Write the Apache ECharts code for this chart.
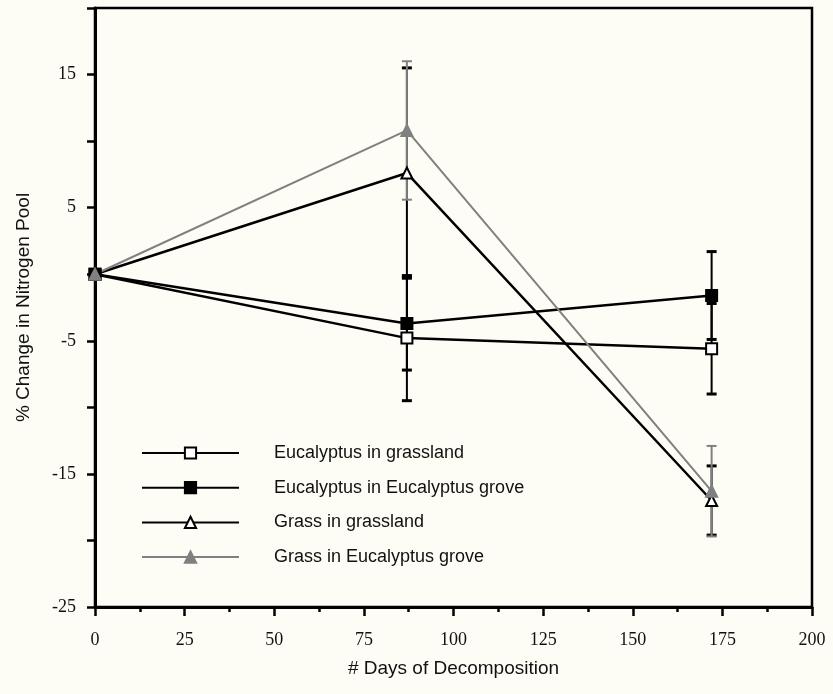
<!DOCTYPE html>
<html><head><meta charset="utf-8">
<script src="https://cdn.jsdelivr.net/npm/echarts@6/dist/echarts.min.js"></script>
<style>html,body{margin:0;padding:0;background:#fdfdf6;}#c{width:833px;height:694px;}</style>
</head><body><div id="c"></div>
<script>
const days = [0, 87, 172];
const seriesNames = ['Eucalyptus in grassland','Eucalyptus in Eucalyptus grove','Grass in grassland','Grass in Eucalyptus grove'];
const eucGrass = [0, -4.8, -5.6];
const eucGrassErr = [0, 4.7, 3.4];
const eucGrove = [0, -3.7, -1.6];
const eucGroveErr = [0, 3.5, 3.3];
const grassGrass = [0, 7.6, -17.0];
const grassGrassErr = [0, 7.9, 2.6];
const grassGrove = [0, 10.8, -16.3];
const grassGroveErr = [0, 5.2, 3.4];
const yLabels = [-25, -15, -5, 5, 15];

const chart = echarts.init(document.getElementById('c'));
const GREY = '#808080';
function lineSeries(name, vals, sym, fill, color, width){
  return {name, type:'line', data: days.map((d,i)=>[d, vals[i]]), symbol: sym, symbolSize: 11,
    lineStyle:{color, width}, itemStyle:{color: fill, borderColor: color, borderWidth: 2}, z: 5};
}
function errSeries(vals, errs, color, capW){
  return {type:'custom', data: days.map((d,i)=>[d, vals[i], vals[i]-errs[i], vals[i]+errs[i]]).filter((r,i)=>errs[i]>0),
    renderItem: function(params, api){
      const x = api.coord([api.value(0), api.value(1)])[0];
      const lo = api.coord([api.value(0), api.value(2)])[1];
      const hi = api.coord([api.value(0), api.value(3)])[1];
      const st = {stroke: color, lineWidth: 2};
      return {type:'group', children:[
        {type:'line', shape:{x1:x,y1:lo,x2:x,y2:hi}, style: st},
        {type:'line', shape:{x1:x-5,y1:lo,x2:x+5,y2:lo}, style:{stroke:color, lineWidth:capW}},
        {type:'line', shape:{x1:x-5,y1:hi,x2:x+5,y2:hi}, style:{stroke:color, lineWidth:capW}}
      ]};
    }, z: 3, silent: true};
}
chart.setOption({
  backgroundColor: '#fdfdf6',
  animation: false,
  grid: {left: 95, right: 21, top: 8, bottom: 87, show: true, borderColor: '#000', borderWidth: 2.5, backgroundColor: 'transparent'},
  legend: {
    left: 136, top: 439, orient: 'vertical', itemWidth: 97, itemHeight: 14, itemGap: 16.7,
    data: seriesNames,
    textStyle: {fontFamily: 'Liberation Sans', fontSize: 18, color: '#111', padding: [0,0,0,30]}
  },
  xAxis: {type:'value', min:0, max:200, interval:25,
    name: '# Days of Decomposition', nameLocation:'middle', nameGap: 52,
    nameTextStyle: {fontFamily:'Liberation Sans', fontSize: 19, color:'#111'},
    axisLine: {onZero: false, lineStyle:{color:'#000', width:3}},
    axisTick: {length: 9, lineStyle:{color:'#000', width:2.5}},
    minorTick: {show:true, splitNumber:2, length:5, lineStyle:{color:'#000', width:2.5}},
    splitLine: {show:false},
    axisLabel: {fontFamily:'Liberation Serif', fontSize: 18, color:'#111', margin: 24}
  },
  yAxis: {type:'value', min:-25, max:20, interval:5,
    name: '% Change in Nitrogen Pool', nameLocation:'middle', nameGap: 62, nameRotate: 90,
    nameTextStyle: {fontFamily:'Liberation Sans', fontSize: 19, color:'#111'},
    axisLine: {onZero: false, lineStyle:{color:'#000', width:3}},
    axisTick: {length: 8, lineStyle:{color:'#000', width:2.5}},
    splitLine: {show:false},
    axisLabel: {fontFamily:'Liberation Serif', fontSize: 18, color:'#111', margin: 19,
      formatter: v => yLabels.indexOf(v) >= 0 ? String(v) : ''}
  },
  series: [
    errSeries(eucGrass, eucGrassErr, '#000', 3),
    errSeries(eucGrove, eucGroveErr, '#000', 3),
    errSeries(grassGrass, grassGrassErr, '#000', 3),
    errSeries(grassGrove, grassGroveErr, GREY, 2),
    lineSeries(seriesNames[0], eucGrass, 'rect', '#fff', '#000', 2.5),
    lineSeries(seriesNames[1], eucGrove, 'rect', '#000', '#000', 2.5),
    lineSeries(seriesNames[2], grassGrass, 'triangle', '#fff', '#000', 2.5),
    lineSeries(seriesNames[3], grassGrove, 'triangle', GREY, GREY, 2)
  ]
});
</script></body></html>
